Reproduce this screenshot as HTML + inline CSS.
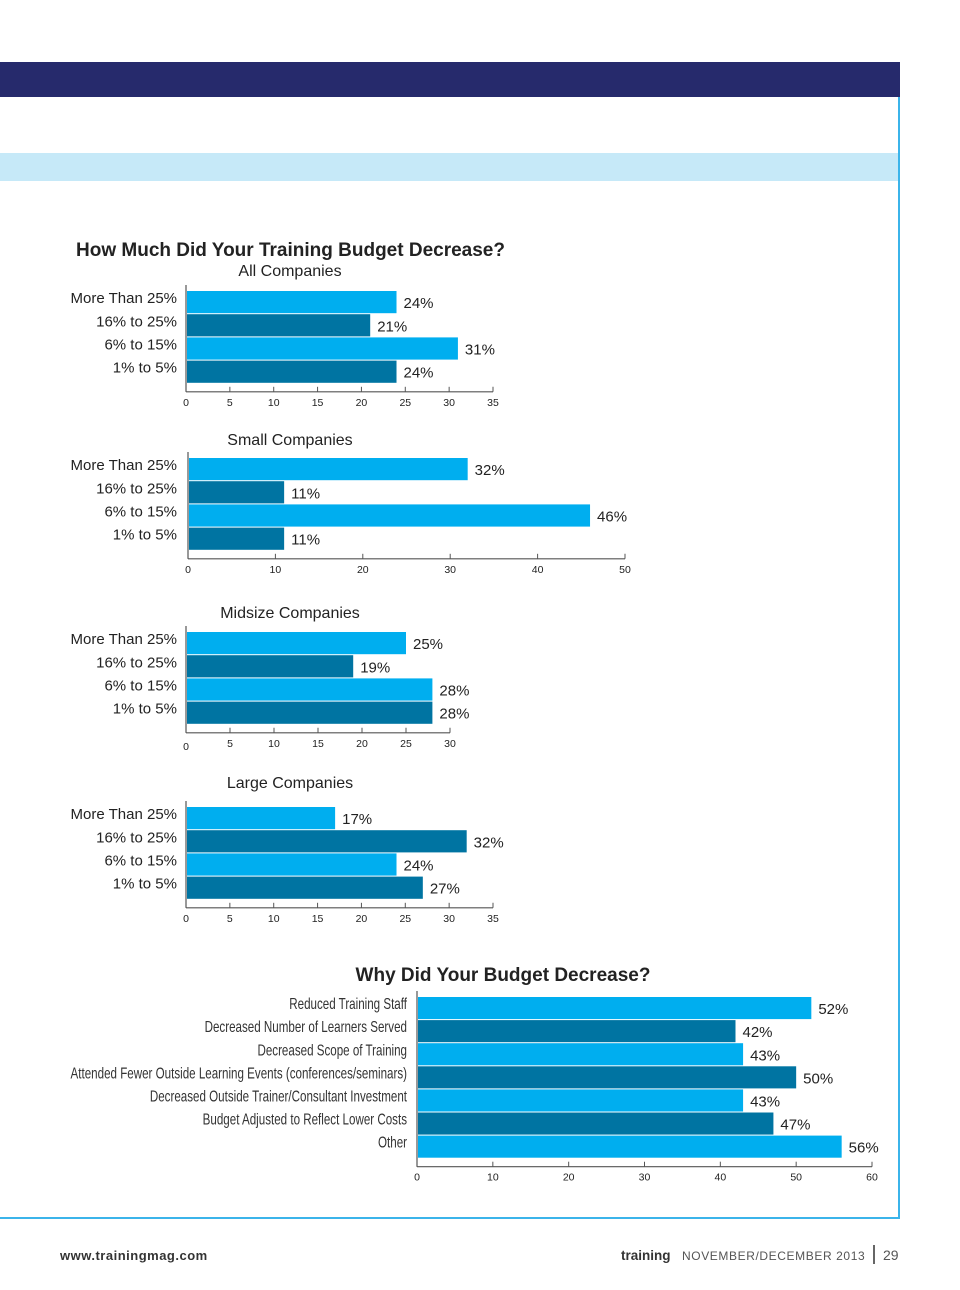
<!DOCTYPE html>
<html><head><meta charset="utf-8"><style>
html,body{margin:0;padding:0;background:#fff;}
svg{display:block;font-family:"Liberation Sans",sans-serif;}
</style></head><body>
<svg id="pg" width="960" height="1290" viewBox="0 0 960 1290">
<rect x="0" y="62" width="900" height="35" fill="#262a6c"/>
<rect x="0" y="153" width="898" height="28" fill="#c6e9f8"/>
<line x1="899" y1="97" x2="899" y2="1219" stroke="#3bb4ea" stroke-width="2"/>
<line x1="0" y1="1218" x2="900" y2="1218" stroke="#3bb4ea" stroke-width="2"/>
<text x="76" y="256" font-size="19" font-weight="bold" fill="#222">How Much Did Your Training Budget Decrease?</text>
<text x="503" y="981" font-size="19" font-weight="bold" fill="#222" text-anchor="middle">Why Did Your Budget Decrease?</text>
<text x="60" y="1260" font-size="13" font-weight="bold" fill="#333" letter-spacing="0.5">www.trainingmag.com</text>
<text x="621" y="1260" font-size="13.5" font-weight="bold" fill="#333">training</text>
<text x="682" y="1260" font-size="12" fill="#555" letter-spacing="0.6">NOVEMBER/DECEMBER 2013</text>
<line x1="874" y1="1245" x2="874" y2="1264" stroke="#333" stroke-width="1.5"/>
<text x="883" y="1260" font-size="14" fill="#555">29</text>
</svg>
<script>
const cats = ["More Than 25%","16% to 25%","6% to 15%","1% to 5%"];
const allVals = [24,21,31,24];
const smallVals = [32,11,46,11];
const midVals = [25,19,28,28];
const largeVals = [17,32,24,27];
const allTicks = [0,5,10,15,20,25,30,35];
const smallTicks = [0,10,20,30,40,50];
const midTicks = [0,5,10,15,20,25,30];
const largeTicks = [0,5,10,15,20,25,30,35];
const reasonCats = ["Reduced Training Staff","Decreased Number of Learners Served","Decreased Scope of Training","Attended Fewer Outside Learning Events (conferences/seminars)","Decreased Outside Trainer/Consultant Investment","Budget Adjusted to Reflect Lower Costs","Other"];
const reasonVals = [52,42,43,50,43,47,56];
const reasonTicks = [0,10,20,30,40,50,60];

const NS="http://www.w3.org/2000/svg";
const svg=document.getElementById('pg');
const LIGHT="#00aeef", DARK="#0074a2";
function mk(tag,attrs,parent){const e=document.createElementNS(NS,tag);for(const k in attrs)e.setAttribute(k,attrs[k]);(parent||svg).appendChild(e);return e;}

function chart(opt){
  const g=mk('g',{});
  
  
  const max=opt.ticks[opt.ticks.length-1];
  const sx=v=>opt.x0+v*(opt.x1-opt.x0)/max;
  if(opt.sub){const t=mk('text',{x:290,y:opt.subY,'font-size':16,fill:'#222','text-anchor':'middle'},g);t.textContent=opt.sub;
    
    }
  const n=opt.cats.length;
  const barTop=opt.top, pitch=opt.pitch, h=pitch-1;
  const axY=barTop+n*pitch+8;
  mk('line',{x1:opt.x0,y1:barTop-6,x2:opt.x0,y2:axY,stroke:'#555','stroke-width':1.2},g);
  mk('line',{x1:opt.x0,y1:axY,x2:opt.x1,y2:axY,stroke:'#555','stroke-width':1.2},g);
  opt.cats.forEach((c,i)=>{
    const y=barTop+i*pitch;
    const r=mk('rect',{x:opt.x0+1,y:y,width:sx(opt.vals[i])-opt.x0-1,height:h,fill:i%2?DARK:LIGHT},g);
    
    
    const v=mk('text',{x:sx(opt.vals[i])+7,y:y+h/2+6,'font-size':15,fill:'#222'},g);v.textContent=opt.vals[i]+'%';
    
    
    let l;
    if(opt.narrow){
      l=mk('text',{x:0,y:0,'font-size':16,fill:'#333','text-anchor':'end',transform:`translate(${opt.labelX},${y+h/2+1}) scale(0.725,1)`},g);
    } else {
      l=mk('text',{x:opt.labelX,y:y+h/2+1,'font-size':15,fill:'#222','text-anchor':'end'},g);
    }
    l.textContent=c;
    
    
  });
  opt.ticks.forEach(t=>{
    const x=sx(t);
    mk('line',{x1:x,y1:axY-5,x2:x,y2:axY,stroke:'#555','stroke-width':1},g);
    const tx=mk('text',{x:x,y:axY+(t===0&&opt.zeroLow?17:14),'font-size':10.5,fill:'#222','text-anchor':'middle'},g);tx.textContent=t;
    
    
  });
}
chart({name:'all-companies-chart',sub:'All Companies',subY:276,cats:cats,vals:allVals,ticks:allTicks,x0:186,x1:493,top:291,pitch:23.2,labelX:177});
chart({name:'small-companies-chart',sub:'Small Companies',subY:445,cats:cats,vals:smallVals,ticks:smallTicks,x0:188,x1:625,top:458,pitch:23.2,labelX:177});
chart({name:'midsize-companies-chart',sub:'Midsize Companies',subY:618,cats:cats,vals:midVals,ticks:midTicks,x0:186,x1:450,top:632,pitch:23.2,labelX:177,zeroLow:true});
chart({name:'large-companies-chart',sub:'Large Companies',subY:788,cats:cats,vals:largeVals,ticks:largeTicks,x0:186,x1:493,top:807,pitch:23.2,labelX:177});
chart({name:'reasons-chart',cats:reasonCats,vals:reasonVals,ticks:reasonTicks,x0:417,x1:872,top:997,pitch:23.1,labelX:407,narrow:true});
</script>
</body></html>
